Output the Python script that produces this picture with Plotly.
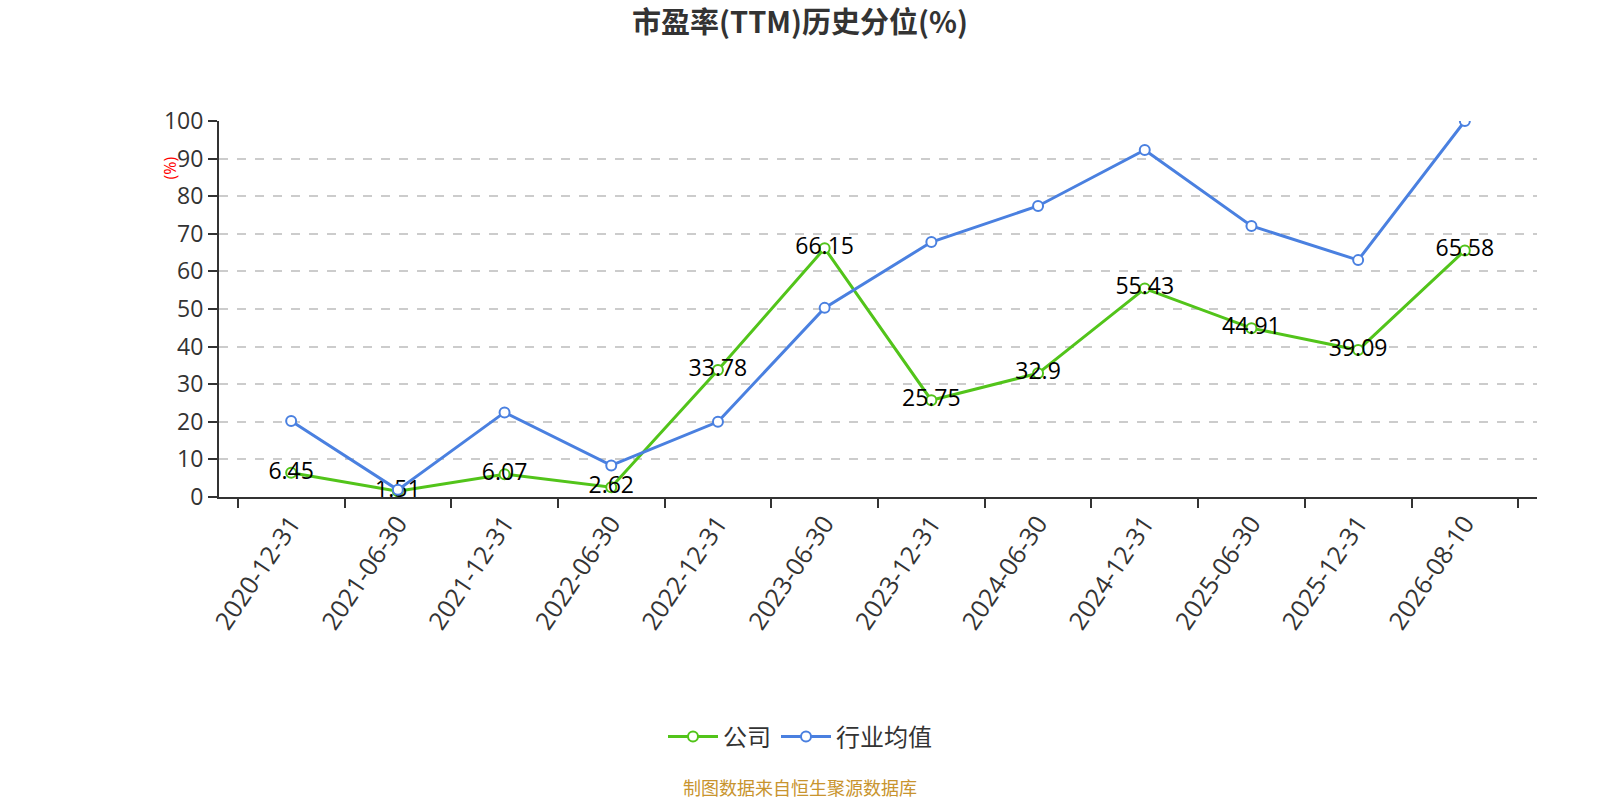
import plotly.graph_objects as go

# data
dates = ["2020-12-31", "2021-06-30", "2021-12-31", "2022-06-30", "2022-12-31", "2023-06-30",
         "2023-12-31", "2024-06-30", "2024-12-31", "2025-06-30", "2025-12-31", "2026-08-10"]
company = [6.45, 1.51, 6.07, 2.62, 33.78, 66.15, 25.75, 32.9, 55.43, 44.91, 39.09, 65.58]
industry = [20.2, 1.9, 22.5, 8.4, 20.0, 50.3, 67.8, 77.4, 92.3, 72.1, 63.0, 100.0]

green = "#52c41a"
blue = "#4a80e0"
font = "Open Sans, Noto Sans CJK SC"
cjk = "Noto Sans CJK SC"

W, H = 1600, 800

fig = go.Figure()

fig.add_trace(go.Scatter(
    x=dates, y=company, name="公司", mode="lines+markers+text",
    line=dict(color=green, width=3),
    marker=dict(symbol="circle", size=10, color="white", line=dict(color=green, width=2)),
    text=[str(v) for v in company], textposition="middle center",
    textfont=dict(size=23, color="#000", family=font),
))
fig.add_trace(go.Scatter(
    x=dates, y=industry, name="行业均值", mode="lines+markers",
    line=dict(color=blue, width=3),
    marker=dict(symbol="circle", size=10, color="white", line=dict(color=blue, width=2)),
))

fig.update_layout(
    width=W, height=H,
    paper_bgcolor="white", plot_bgcolor="white",
    margin=dict(l=219, r=63, t=121, b=303),
    font=dict(family=font, color="#333"),
    title=dict(text="<b>市盈率(TTM)历史分位(%)</b>", x=0.5, xref="container", xanchor="center",
               y=1 - 23 / H, yanchor="middle", font=dict(size=29, color="#333", family=cjk)),
    showlegend=True,
    legend=dict(orientation="h", xref="container", yref="container", x=0.5, xanchor="center",
                y=1 - 737 / H, yanchor="middle", font=dict(size=24, color="#333", family=cjk),
                itemwidth=50),
    annotations=[
        dict(text="(%)", x=-0.047, y=0.9096, xref="paper", yref="paper", showarrow=False,
             textangle=-90, font=dict(size=16, color="red", family=font)),
        dict(text="制图数据来自恒生聚源数据库", x=(800 - 219) / 1318, y=(497 - 787) / 376,
             xref="paper", yref="paper", showarrow=False, xanchor="center", yanchor="middle",
             font=dict(size=18, color="#c8942e", family=cjk)),
    ],
)

fig.update_xaxes(
    type="category", tickson="boundaries", ticks="outside", ticklen=9, tickwidth=2, tickcolor="#333",
    showline=True, linecolor="#333", linewidth=2, showgrid=False, zeroline=False,
    tickangle=-56, tickfont=dict(size=25, color="#333", family=font),
)
fig.update_yaxes(
    range=[0, 100], dtick=10, ticks="outside", ticklen=9, tickwidth=2, tickcolor="#333",
    showline=True, linecolor="#333", linewidth=2, zeroline=False,
    showgrid=True, gridcolor="#cccccc", griddash="dash", gridwidth=1.5,
    tickfont=dict(size=23, color="#333", family=font),
)

# drop the default 8px body margin so the 1600x800 figure fills the window
fig.write_html("out.html", config={"displayModeBar": False},
               post_script="document.body.style.margin='0';")
